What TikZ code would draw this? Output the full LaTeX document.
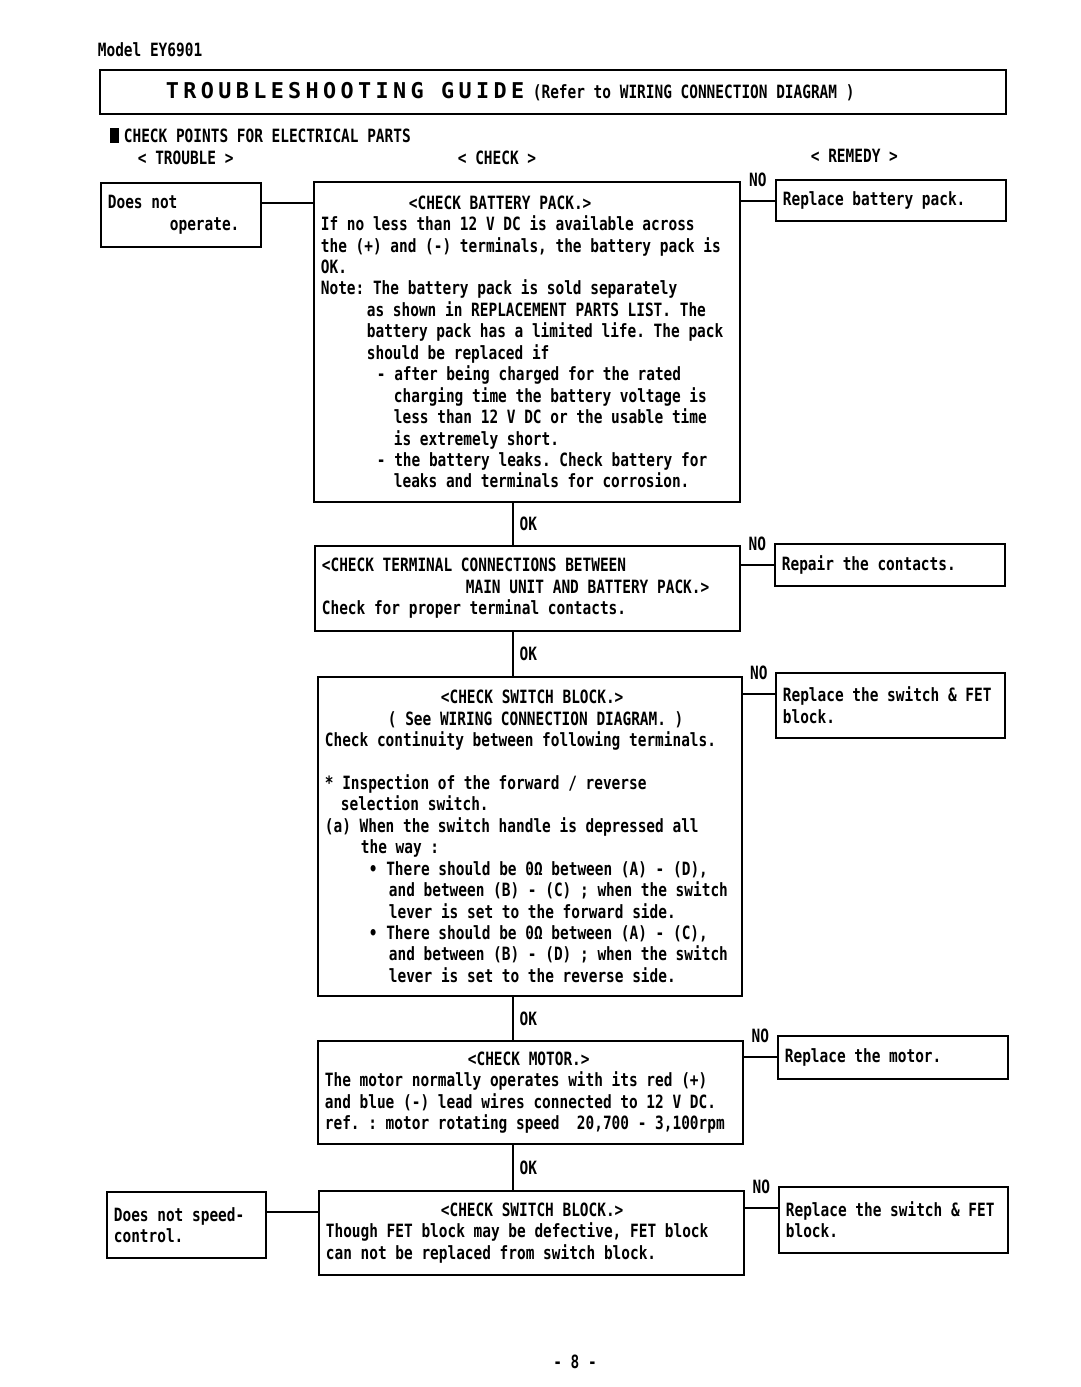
\documentclass[tikz,border=0pt]{standalone}
\usepackage{fontspec}
\setmainfont[FakeStretch=0.79]{DejaVu Sans Mono}
\newfontfamily\titlefont[LetterSpace=20]{DejaVu Sans Mono}
\usetikzlibrary{calc,positioning}

\begin{document}
\begin{tikzpicture}[x=0.25mm,y=-0.25mm,line width=0.45mm,
   every node/.style={font=\fontsize{13pt}{15.25pt}\selectfont\bfseries\frenchspacing},
   box/.style={draw,anchor=north west,align=flush left,inner xsep=1.75mm,inner ysep=0.5mm},
   lbl/.style={anchor=west,inner sep=0pt},
   link/.style={line width=0.35mm},
   oklbl/.style={anchor=west,inner sep=1.5mm},
   nolbl/.style={above=3.5mm,inner sep=0pt}]

   \useasboundingbox (0,0) rectangle (1080,1387);

   \node[lbl] (model) at (97,50) {Model EY6901};
   \node[box,minimum width=226.5mm,minimum height=11mm,text width=223mm] (title) at (99,69)
      {\hspace*{14.75mm}{\titlefont\fontsize{15.5pt}{16pt}\selectfont TROUBLESHOOTING GUIDE} (Refer to WIRING CONNECTION DIAGRAM )};

   \fill (110,128) rectangle (119,143);
   \node[lbl] (points) at (123,136) {CHECK POINTS FOR ELECTRICAL PARTS};
   \node[lbl] (htrouble) at (137,158) {< TROUBLE >};
   \node[lbl] (hcheck) at (457,158) {< CHECK >};
   \node[lbl] (hremedy) at (810,156) {< REMEDY >};

   % trouble
   \node[box,minimum width=40mm,minimum height=16mm,text width=36.5mm] (tr1) at (100,182)
      {Does not\\\hspace*{15.5mm}operate.};
   \node[box,minimum width=39.75mm,minimum height=16.5mm,text width=36.25mm] (tr2) at (106,1191)
      {Does not speed-\\control.};

   % check
   \node[box,minimum width=106.5mm,minimum height=80mm,text width=103mm] (check1) at (313,181) {%
      \hspace*{22mm}<CHECK BATTERY PACK.>\\
      If no less than 12 V DC is available across\\
      the (+) and (-) terminals, the battery pack is\\
      OK.\\
      Note: The battery pack is sold separately\\
      \hspace*{11.5mm}as shown in REPLACEMENT PARTS LIST. The\\
      \hspace*{11.5mm}battery pack has a limited life. The pack\\
      \hspace*{11.5mm}should be replaced if\\
      \hspace*{14mm}- after being charged for the rated\\
      \hspace*{18.25mm}charging time the battery voltage is\\
      \hspace*{18.25mm}less than 12 V DC or the usable time\\
      \hspace*{18.25mm}is extremely short.\\
      \hspace*{14mm}- the battery leaks. Check battery for\\
      \hspace*{18.25mm}leaks and terminals for corrosion.};
   \node[box,minimum width=106.25mm,minimum height=21.25mm,text width=102.75mm] (check2) at (314,545) {%
      <CHECK TERMINAL CONNECTIONS BETWEEN\\
      \hspace*{36mm}MAIN UNIT AND BATTERY PACK.>\\
      Check for proper terminal contacts.};
   \node[box,minimum width=106mm,minimum height=79.75mm,text width=102.5mm] (check3) at (317,676) {%
      \hspace*{29mm}<CHECK SWITCH BLOCK.>\\
      \hspace*{15.75mm}( See WIRING CONNECTION DIAGRAM. )\\
      Check continuity between following terminals.\\[15.25pt]
      * Inspection of the forward / reverse\\
      \hspace*{4mm}selection switch.\\
      (a) When the switch handle is depressed all\\
      \hspace*{9mm}the way :\\
      \hspace*{11mm}• There should be 0Ω between (A) - (D),\\
      \hspace*{16mm}and between (B) - (C) ; when the switch\\
      \hspace*{16mm}lever is set to the forward side.\\
      \hspace*{11mm}• There should be 0Ω between (A) - (C),\\
      \hspace*{16mm}and between (B) - (D) ; when the switch\\
      \hspace*{16mm}lever is set to the reverse side.};
   \node[box,minimum width=106.25mm,minimum height=25.75mm,text width=102.75mm] (check4) at (317,1040) {%
      \hspace*{35.75mm}<CHECK MOTOR.>\\
      The motor normally operates with its red (+)\\
      and blue (-) lead wires connected to 12 V DC.\\
      \mbox{ref. : motor rotating speed\ \ 20,700 - 3,100rpm}};
   \node[box,minimum width=106.25mm,minimum height=21mm,text width=102.75mm] (check5) at (318,1190) {%
      \hspace*{28.75mm}<CHECK SWITCH BLOCK.>\\
      Though FET block may be defective, FET block\\
      can not be replaced from switch block.};

   % remedy
   \node[box,minimum width=57.5mm,minimum height=10.25mm,text width=54mm] (rem1) at (775,179)
      {Replace battery pack.};
   \node[box,minimum width=57.5mm,minimum height=10.5mm,text width=54mm] (rem2) at (774,543)
      {Repair the contacts.};
   \node[box,minimum width=57.25mm,minimum height=16.25mm,text width=53.75mm] (rem3) at (775,672)
      {Replace the switch \& FET\\block.};
   \node[box,minimum width=57.5mm,minimum height=10.75mm,text width=54mm] (rem4) at (777,1035)
      {Replace the motor.};
   \node[box,minimum width=57.25mm,minimum height=16.5mm,text width=53.75mm] (rem5) at (778,1186)
      {Replace the switch \& FET\\block.};

   \node (page) at (575,1362) {- 8 -};

   \coordinate (spine) at (513,0);

   \draw[link] ($(tr1.north east)+(0,21)$) coordinate (t1) -- (t1 -| check1.west);
   \draw[link] ($(tr2.north east)+(0,21)$) coordinate (t2) -- (t2 -| check5.west);

   \draw[link] (check1.south -| spine) -- node[oklbl] {OK} (check2.north -| spine);
   \draw[link] (check2.south -| spine) -- node[oklbl] {OK} (check3.north -| spine);
   \draw[link] (check3.south -| spine) -- node[oklbl] {OK} (check4.north -| spine);
   \draw[link] (check4.south -| spine) -- node[oklbl] {OK} (check5.north -| spine);

   \draw[link] ($(rem1.north west)+(0,22)$) coordinate (r1) -- node[nolbl] {NO} (r1 -| check1.east);
   \draw[link] ($(rem2.north west)+(0,22)$) coordinate (r2) -- node[nolbl] {NO} (r2 -| check2.east);
   \draw[link] ($(rem3.north west)+(0,22)$) coordinate (r3) -- node[nolbl] {NO} (r3 -| check3.east);
   \draw[link] ($(rem4.north west)+(0,22)$) coordinate (r4) -- node[nolbl] {NO} (r4 -| check4.east);
   \draw[link] ($(rem5.north west)+(0,22)$) coordinate (r5) -- node[nolbl] {NO} (r5 -| check5.east);

\end{tikzpicture}
\end{document}
